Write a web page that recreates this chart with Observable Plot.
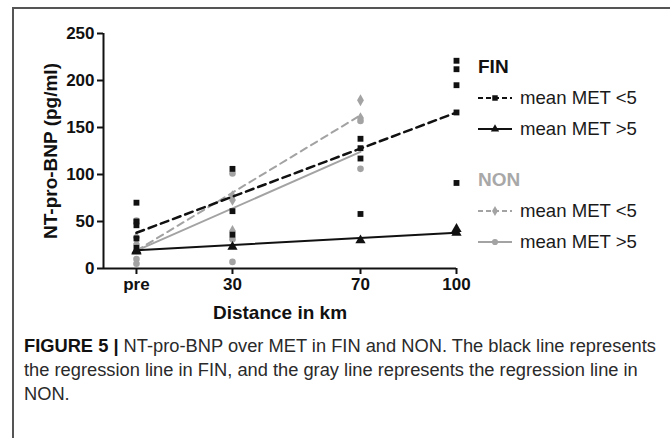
<!DOCTYPE html>
<html>
<head>
<meta charset="utf-8">
<script src="https://cdn.jsdelivr.net/npm/d3@7"></script>
<script src="https://cdn.jsdelivr.net/npm/@observablehq/plot@0.6"></script>
<style>
  body { margin: 0; background: #fff; }
  #wrap { position: relative; width: 670px; height: 438px; overflow: hidden; background: #fff; font-family: "Liberation Sans", Arial, sans-serif; }
  #frame { position: absolute; left: 12px; top: 7px; width: 720px; height: 520px; border-top: 2px solid #555; border-left: 2px solid #555; }
  #chart { position: absolute; left: 0; top: 0; }
  #chart svg g[aria-label="x-axis tick label"] text,
  #chart svg g[aria-label="y-axis tick label"] text { font-weight: bold; fill: #111; font-size: 17px !important; }
  #chart svg g[aria-label="x-axis tick label"],
  #chart svg g[aria-label="y-axis tick label"] { font-size: 17px !important; }
  #chart svg g[aria-label="x-axis label"] text,
  #chart svg g[aria-label="y-axis label"] text { font-weight: bold; fill: #111; font-size: 19px !important; }
  #chart svg g[aria-label="x-axis label"],
  #chart svg g[aria-label="y-axis label"] { font-size: 19px !important; }
  #legend { position: absolute; left: 478px; top: 51px; }
  .lrow { position: relative; height: 31px; display: flex; align-items: center; white-space: nowrap; }
  .lrow svg { display: block; margin-right: 8px; }
  .ltitle { font-weight: bold; font-size: 19px; }
  .ltext { font-size: 18.6px; color: #1a1a1a; }
  .lgap { height: 20px; }
  #caption { position: absolute; left: 24px; top: 334px; font-size: 18.3px; line-height: 24px; color: #2a2a2a; white-space: nowrap; }
  #caption b { color: #111; }
</style>
</head>
<body>
<div id="wrap">
  <div id="frame"></div>
  <div id="chart"></div>
  <div id="legend"></div>
  <div id="caption"></div>
</div>
<script>
// ---- data ----
const xTicks = [0, 30, 70, 100];
const xTickLabels = ["pre", "30", "70", "100"];
const yTicks = [0, 50, 100, 150, 200, 250];
const xMin = -10.3;

// FIN, mean MET <5 (black squares)
const finLowX = [0, 0, 0, 0, 0, 30, 30, 30, 70, 70, 70, 70, 100, 100, 100, 100, 100];
const finLowY = [70, 50, 46, 32, 22, 106, 61, 36, 138, 128, 117, 58, 221, 212, 195, 166, 91];
// FIN, mean MET >5 (black triangles)
const finHighX = [0, 0, 30, 70, 100, 100];
const finHighY = [19, 18, 23, 30, 42, 38];
// NON, mean MET <5 (gray diamonds)
const nonLowX = [0, 0, 30, 30, 30, 70, 70];
const nonLowY = [33, 26, 77, 73, 40, 179, 160];
// NON, mean MET >5 (gray circles)
const nonHighX = [0, 0, 0, 30, 30, 30, 70, 70];
const nonHighY = [51, 10, 5, 101, 31, 7, 157, 106];

// regression lines (end points)
const finFitX = [0, 100];
const finLowFit = [38, 166];
const finHighFit = [19.5, 38];
const nonFitX = [0, 70];
const nonLowFit = [19, 163];
const nonHighFit = [19, 124];

const legendGroups = ["FIN", "NON"];
const legendLabels = ["mean MET <5", "mean MET >5"];
const captionLines = [
  ["FIGURE 5 |", " NT-pro-BNP over MET in FIN and NON. The black line represents"],
  ["", "the regression line in FIN, and the gray line represents the regression line in"],
  ["", "NON."]
];

const BLACK = "#111";
const GRAY = "#a3a3a3";

const pts = (xs, ys) => xs.map((x, i) => ({x, y: ys[i]}));
const fit = (xs, ys) => xs.map((x, i) => ({x, y: ys[i]}));

const chart = Plot.plot({
  width: 670,
  height: 330,
  marginLeft: 103,
  marginRight: 214,
  marginTop: 33,
  marginBottom: 62,
  style: {fontFamily: "Liberation Sans, Arial, sans-serif", background: "transparent", color: "#111"},
  x: {domain: [xMin, 100]},
  y: {domain: [0, 250]},
  marks: [
    Plot.axisX({ticks: xTicks, tickFormat: d => xTickLabels[xTicks.indexOf(d)], tickSize: 6, tickPadding: 3,
      fontSize: 17, strokeWidth: 2, stroke: BLACK,
      label: "Distance in km", labelAnchor: "center", labelOffset: 50, labelArrow: false}),
    Plot.axisY({ticks: yTicks, tickSize: 6, tickPadding: 3, fontSize: 17, strokeWidth: 2, stroke: BLACK,
      label: "NT-pro-BNP (pg/ml)", labelAnchor: "center", labelOffset: 60, labelArrow: false}),
    Plot.ruleY([0], {stroke: BLACK, strokeWidth: 2}),
    Plot.ruleX([xMin], {stroke: BLACK, strokeWidth: 2}),
    // NON points
    Plot.dot(pts(nonHighX, nonHighY), {x: "x", y: "y", symbol: "circle", r: 3.3, fill: GRAY}),
    Plot.dot(pts(nonLowX, nonLowY), {x: "x", y: "y", symbol: "diamond", r: 3.6, fill: GRAY}),
    // NON regression lines
    Plot.line(fit(nonFitX, nonLowFit), {x: "x", y: "y", stroke: GRAY, strokeWidth: 2, strokeDasharray: "7,5"}),
    Plot.line(fit(nonFitX, nonHighFit), {x: "x", y: "y", stroke: GRAY, strokeWidth: 2}),
    // FIN regression lines
    Plot.line(fit(finFitX, finLowFit), {x: "x", y: "y", stroke: BLACK, strokeWidth: 2.5, strokeDasharray: "8,5"}),
    Plot.line(fit(finFitX, finHighFit), {x: "x", y: "y", stroke: BLACK, strokeWidth: 2}),
    // FIN points
    Plot.dot(pts(finLowX, finLowY), {x: "x", y: "y", symbol: "square", r: 3.3, fill: BLACK}),
    Plot.dot(pts(finHighX, finHighY), {x: "x", y: "y", symbol: "triangle", r: 3.8, fill: BLACK})
  ]
});
document.getElementById("chart").appendChild(chart);

// ---- legend (HTML with small inline samples) ----
const legend = d3.select("#legend");
const styles = [
  [{color: BLACK, dash: "5,3", sym: "square"}, {color: BLACK, dash: null, sym: "triangle"}],
  [{color: GRAY, dash: "5,3", sym: "diamond"}, {color: GRAY, dash: null, sym: "circle"}]
];
legendGroups.forEach((g, gi) => {
  if (gi > 0) legend.append("div").attr("class", "lgap");
  legend.append("div").attr("class", "lrow ltitle").style("color", gi === 0 ? BLACK : "#a8a8a8").text(g);
  legendLabels.forEach((lab, li) => {
    const st = styles[gi][li];
    const row = legend.append("div").attr("class", "lrow");
    const s = row.append("svg").attr("width", 34).attr("height", 12);
    s.append("line").attr("x1", 0).attr("x2", 34).attr("y1", 6).attr("y2", 6)
      .attr("stroke", st.color).attr("stroke-width", 2).attr("stroke-dasharray", st.dash);
    s.append("path").attr("transform", "translate(17,6)")
      .attr("d", d3.symbol(st.sym === "square" ? d3.symbolSquare : st.sym === "triangle" ? d3.symbolTriangle : st.sym === "diamond" ? d3.symbolDiamond : d3.symbolCircle, 30)())
      .attr("fill", st.color);
    row.append("span").attr("class", "ltext").text(lab);
  });
});

// ---- caption ----
const cap = d3.select("#caption");
captionLines.forEach(([b, t]) => {
  const line = cap.append("div");
  if (b) line.append("b").text(b);
  line.append("span").text(t);
});
</script>
</body>
</html>
